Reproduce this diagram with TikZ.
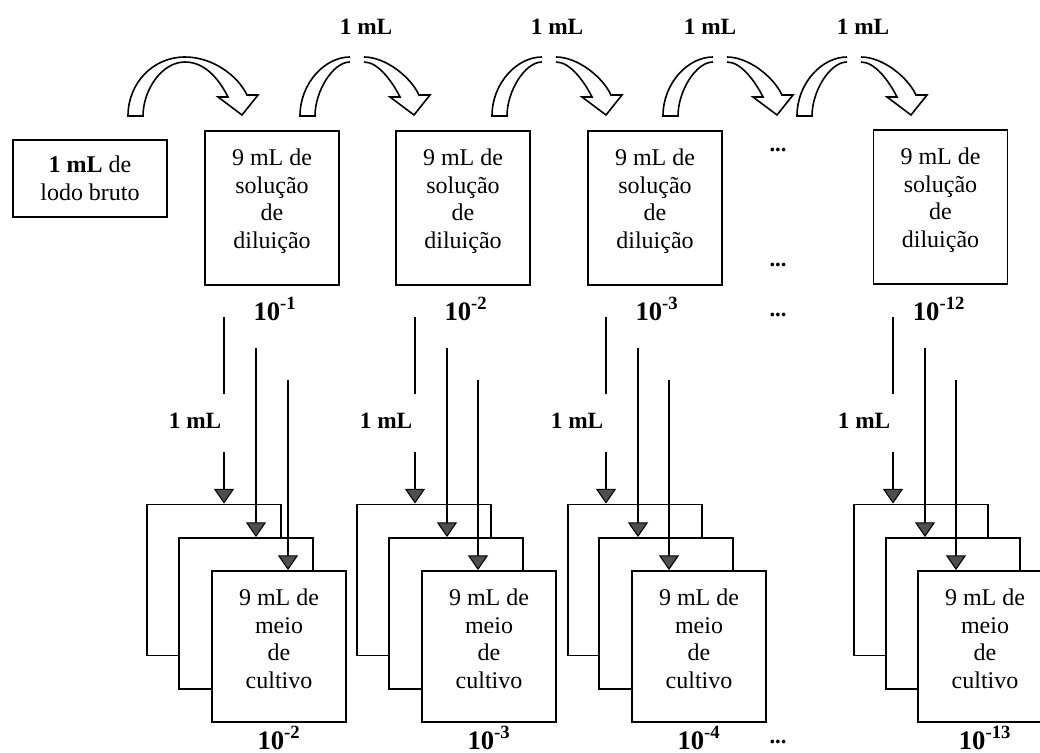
\documentclass[tikz,border=0pt]{standalone}
\usepackage{fontspec}
\setmainfont{Liberation Serif}
\usetikzlibrary{arrows.meta}
\definecolor{headgray}{RGB}{78,78,78}

\tikzset{
  frame/.style={draw=black, line width=1.4pt, fill=white, inner sep=0pt},
  dilbox/.style={frame, minimum width=100.5pt, minimum height=115pt},
  cultbox/.style={frame, minimum width=101pt, minimum height=113.25pt},
  boxtext/.style={align=center, font=\fontsize{18}{20.6}\selectfont, inner sep=0pt, anchor=north},
  vol/.style={font=\fontsize{17.5}{20}\selectfont\bfseries, inner sep=0pt, anchor=base},
  pow/.style={font=\fontsize{20}{24}\selectfont\bfseries, inner sep=0pt, anchor=base},
  dots/.style={font=\fontsize{17}{20}\selectfont\bfseries, inner sep=0pt},
  pipe/.style={line width=1.4pt},
  feed/.style={line width=1.4pt, -{Triangle[width=15pt,length=11pt,fill=headgray,line width=0.8pt]}},
  arcline/.style={line width=1.2pt, line join=miter},
  % hollow curved transfer arrow; #1 = half width of the opening at its crest
  pics/transfer/.style={code={
    \draw[arcline] ({57-#1},-54) .. controls (33,-54) and (15,-25) .. (15,0)
      -- (0,0) .. controls (0,-33) and (25,-59) .. ({57-#1},-59);
    \draw[arcline] ({57+#1},-59) .. controls (85,-59) and (110,-40) .. (119,-21)
      -- (130,-21) -- (114,-1) -- (90,-19) -- (100,-19)
      .. controls (92,-35) and (78,-54) .. ({57+#1},-54);
  }}
}

\begin{document}
\begin{tikzpicture}[x=0.75pt,y=-0.75pt]
\useasboundingbox (0,0) rectangle (1040,753);
\clip (0,0) rectangle (1040,753);

% transfers between the dilution tubes
\pic at (128,116) {transfer=0};
\pic at (300,116) {transfer=7};
\pic at (492,116) {transfer=7};
\pic at (663,116) {transfer=7};
\pic at (797,116) {transfer=7};

\node[vol] (v1) at (366,34) {1 mL};
\node[vol] (v2) at (557,34) {1 mL};
\node[vol] (v3) at (710,34) {1 mL};
\node[vol] (v4) at (863,34) {1 mL};

% raw sample
\node[frame, minimum width=115.5pt, minimum height=57.75pt] (lodo) at (90,178.5) {};
\node[boxtext, anchor=center] (lodot) at (lodo.center) {\textbf{1 mL} de\\lodo bruto};

% dilution series
\node[dilbox] (d1) at (272,208) {};
\node[dilbox] (d2) at (463,208) {};
\node[dilbox] (d3) at (655,208) {};
\node[dilbox] (d4) at (940.5,207) {};
\foreach \n in {1,2,3,4}{
  \node[boxtext] (d\n t) at ([yshift=-14pt]d\n.north) {9 mL de\\solução\\de\\diluição};
}

\node[pow] (e1) at (275,320) {10\textsuperscript{-1}};
\node[pow] (e2) at (466,320) {10\textsuperscript{-2}};
\node[pow] (e3) at (657,320) {10\textsuperscript{-3}};
\node[pow] (e4) at (939,320) {10\textsuperscript{-12}};

\node[dots] (g1) at (778,150) {...};
\node[dots] (g2) at (778,265) {...};
\node[dots] (g3) at (778,315) {...};
\node[dots] (g4) at (778,742) {...};

% culture tubes, three per dilution
\foreach \k/\a/\b/\c/\la/\lb/\lc/\ex in {
    1/147/179/212/224/256/288/-2,
    2/357/389/422/415/447/478/-3,
    3/568/599/632/606/638/669/-4,
    4/854/886/918/893/925/956/-13}{
  \node[cultbox] (s\k a) at ({\a+67},580) {};
  \node[cultbox] (s\k b) at ({\b+67},613.5) {};
  \node[cultbox] (s\k c) at ({\c+67},646.5) {};
  \node[boxtext] (s\k t) at ([yshift=-14pt]s\k c.north) {9 mL de\\meio\\de\\cultivo};
  \node[pow] (s\k e) at ({\c+67},749) {10\textsuperscript{\ex}};
  \node[vol] (s\k v) at ({\la-29},428) {1 mL};
  \coordinate (s\k p1) at (\la,317);
  \coordinate (s\k q1) at (\la,394);
  \coordinate (s\k r1) at (\la,452);
  \coordinate (s\k p2) at (\lb,348);
  \coordinate (s\k p3) at (\lc,380);
  \draw[pipe] (s\k p1) -- (s\k q1);
  \draw[feed] (s\k r1) -- (s\k r1 |- s\k a.north);
  \draw[feed] (s\k p2) -- (s\k p2 |- s\k b.north);
  \draw[feed] (s\k p3) -- (s\k p3 |- s\k c.north);
}
\end{tikzpicture}
\end{document}
